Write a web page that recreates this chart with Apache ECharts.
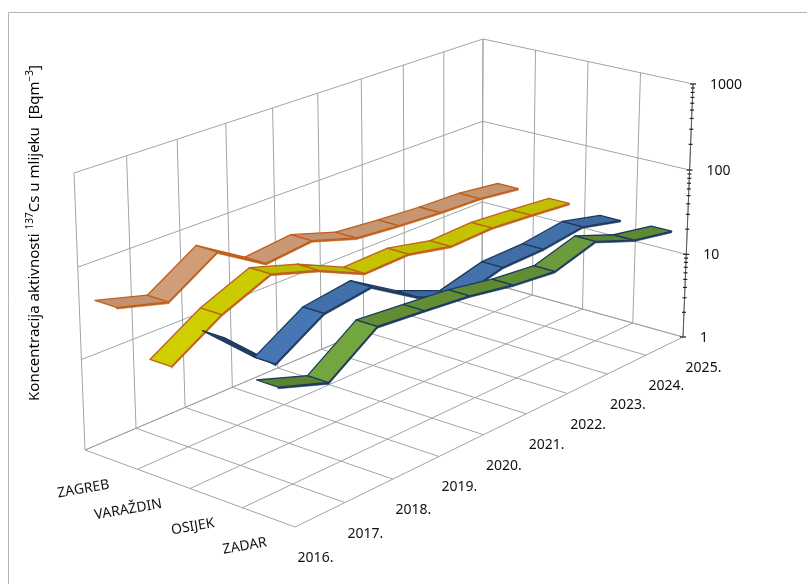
<!DOCTYPE html>
<html>
<head>
<meta charset="utf-8">
<title>Koncentracija aktivnosti 137Cs u mlijeku</title>
<style>
  html, body { margin: 0; height: 100%; background: #fff; }
  #chart { width: 807px; height: 584px; }
</style>
</head>
<body>
<div id="chart"></div>
<script src="https://cdn.jsdelivr.net/npm/echarts/dist/echarts.min.js"></script>
<script>
// ---- data (Bq/m3) ----
var YEARS = ['2016.', '2017.', '2018.', '2019.', '2020.', '2021.', '2022.', '2023.', '2024.', '2025.'];
var CITIES = ['ZAGREB', 'VARAŽDIN', 'OSIJEK', 'ZADAR'];
var ZAGREB   = [50, 35, 77, 36, 41, 28, 25, 23, 22, 19];
var VARAZDIN = [18, 39, 66, 45, 26, 27, 21, 22, 20, 18];
var OSIJEK   = [56, 17.5, 37, 44, 21, 13, 17.5, 18, 21, 16];
var ZADAR    = [26, 17, 40, 36, 32, 26, 23, 32, 21, 17];
var TICKS = [1, 10, 100, 1000];

var FACE = ['#d6a27c', '#d8d800', '#4a7ebf', '#7db544'];
var EDGE = ['#c0601c', '#c0601c', '#1f3a60', '#1f3a60'];
var FLAT = [0.93, 0.9, 0.87, 0.8];    // brightness of a level face vs a rising one
var FONT = '14px "Noto Sans", "Open Sans", sans-serif';

// ---- 3D box: screen corners of floor (v=0) and top (v=1) ----
// b = back (w=0), f = front (w=1), l = first year (u=0), r = last year (u=1)
var BOX = {
  floor: { bl: [85, 450], br: [482, 281], fl: [295, 527], fr: [683, 337] },
  top:   { bl: [74, 173], br: [483, 39],  fl: [293, 237], fr: [693, 84] }
};
var FORE_U = 0.18, FORE_V = -0.03;   // perspective foreshortening along axes
var RIBBON = 0.1;                    // ribbon depth (fraction of box depth)
var THICK = 0.006;                   // ribbon thickness (fraction of box height)

function fore(t, r) { return t * (1 + r) / (1 + r * t); }

function project(u, w, v) {
  u = fore(u, FORE_U);
  v = fore(v, FORE_V);
  var out = [];
  for (var k = 0; k < 2; k++) {
    var f = BOX.floor, t = BOX.top;
    var b = f.bl[k] * (1 - u) * (1 - w) + f.br[k] * u * (1 - w) + f.fl[k] * (1 - u) * w + f.fr[k] * u * w;
    var c = t.bl[k] * (1 - u) * (1 - w) + t.br[k] * u * (1 - w) + t.fl[k] * (1 - u) * w + t.fr[k] * u * w;
    out.push(b + (c - b) * v);
  }
  return out;
}

// category index + value -> normalised [u, v] through the (hidden) cartesian axes
function norm(params, api, idx, val) {
  var cs = params.coordSys;
  var p = api.coord([idx, val]);
  return [(p[0] - cs.x) / cs.width, (cs.y + cs.height - p[1]) / cs.height];
}

function shade(hex, k) {
  var n = parseInt(hex.slice(1), 16);
  var r = Math.min(255, Math.round((n >> 16 & 255) * k));
  var g = Math.min(255, Math.round((n >> 8 & 255) * k));
  var b = Math.min(255, Math.round((n & 255) * k));
  return 'rgb(' + r + ',' + g + ',' + b + ')';
}

function ribbonSeries(s, values) {
  var data = [];
  for (var i = 0; i < values.length - 1; i++) data.push([i, values[i], values[i + 1]]);
  return {
    type: 'custom',
    name: CITIES[s],
    silent: true,
    z: 3 + s,
    data: data,
    renderItem: function (params, api) {
      var i = api.value(0);
      var a = norm(params, api, i, api.value(1));
      var b = norm(params, api, i + 1, api.value(2));
      var wc = (s + 0.5) / CITIES.length;
      var w0 = wc - RIBBON / 2, w1 = wc + RIBBON / 2;
      var p1 = project(a[0], w0, a[1]), p2 = project(b[0], w0, b[1]);
      var p3 = project(b[0], w1, b[1]), p4 = project(a[0], w1, a[1]);
      var q3 = project(b[0], w1, b[1] - THICK), q4 = project(a[0], w1, a[1] - THICK);

      var e1 = [p2[0] - p1[0], p2[1] - p1[1]], e2 = [p4[0] - p1[0], p4[1] - p1[1]];
      var facing = e1[0] * e2[1] - e1[1] * e2[0];
      var rise = Math.sin(Math.atan2((b[1] - a[1]) * 265, (b[0] - a[0]) * 395));
      var k = 1 - (1 - FLAT[s]) * (1 - rise);
      var fill = facing < 0 ? shade(EDGE[s], 1.05) : shade(FACE[s], Math.max(k, 0.65));

      return {
        type: 'group',
        children: [{
          type: 'polygon',
          z2: i * 2,
          shape: { points: [p4, p3, q3, q4] },
          style: { fill: EDGE[s], stroke: EDGE[s], lineWidth: 0.6 }
        }, {
          type: 'polygon',
          z2: i * 2 + 1,
          shape: { points: [p1, p2, p3, p4] },
          style: { fill: fill, stroke: EDGE[s], lineWidth: 1.3, lineJoin: 'round' }
        }]
      };
    }
  };
}

// ---- frame lines: [year0, value0, depth0, year1, value1, depth1] ----
var last = YEARS.length - 1;
var frameLines = [];
for (var j = 0; j <= CITIES.length; j++) {
  var d = j / CITIES.length;
  frameLines.push([0, 1, d, last, 1, d]);          // floor, along years
  frameLines.push([last, 1, d, last, 1000, d]);    // side wall verticals
}
for (var i = 0; i < YEARS.length; i++) {
  frameLines.push([i, 1, 0, i, 1, 1]);             // floor, along depth
  frameLines.push([i, 1, 0, i, 1000, 0]);          // back wall verticals
}
TICKS.forEach(function (t) {
  frameLines.push([0, t, 0, last, t, 0]);          // back wall horizontals
  frameLines.push([last, t, 0, last, t, 1]);       // side wall horizontals
});

// ---- value axis ticks (log minor ticks 2..9) ----
var axisTicks = [];
TICKS.forEach(function (t, k) {
  axisTicks.push([last, t, 1]);
  if (k < TICKS.length - 1) for (var m = 2; m <= 9; m++) axisTicks.push([last, t * m, 0]);
});

// ---- labels: [year, value, depth, kind, index] ----
var labels = [];
YEARS.forEach(function (y, k) { labels.push([k, 1, 1, 0, k]); });
CITIES.forEach(function (c, k) { labels.push([0, 1, (k + 0.5) / CITIES.length, 1, k]); });
TICKS.forEach(function (t, k) { labels.push([last, t, 1, 2, k]); });

var chart = echarts.init(document.getElementById('chart'));

chart.setOption({
  animation: false,
  grid: { left: 0, top: 0, width: 300, height: 300, show: false },
  xAxis: { type: 'category', data: YEARS, boundaryGap: false, show: false },
  yAxis: { type: 'log', logBase: 10, min: 1, max: 1000, show: false },
  graphic: [{
    type: 'rect',
    z: 0,
    shape: { x: 8.5, y: 12.5, width: 900, height: 700 },
    style: { fill: 'none', stroke: '#b4b4b4', lineWidth: 1 }
  }, {
    type: 'text',
    z: 10,
    x: 35,
    y: 233,
    rotation: Math.PI / 2,
    style: {
      text: 'Koncentracija aktivnosti {sup|137}Cs u mlijeku  [Bqm{sup|\u22123}]',
      font: '15px "Noto Sans", "Open Sans", sans-serif',
      fill: '#000',
      align: 'center',
      verticalAlign: 'middle',
      rich: {
        sup: { fontSize: 10, fontFamily: '"Noto Sans", sans-serif', verticalAlign: 'top', lineHeight: 19 }
      }
    }
  }],
  series: [{
    type: 'custom',
    name: 'frame',
    silent: true,
    z: 1,
    data: frameLines,
    renderItem: function (params, api) {
      var a = norm(params, api, api.value(0), api.value(1));
      var b = norm(params, api, api.value(3), api.value(4));
      var p = project(a[0], api.value(2), a[1]);
      var q = project(b[0], api.value(5), b[1]);
      return {
        type: 'line',
        shape: { x1: p[0], y1: p[1], x2: q[0], y2: q[1] },
        style: { stroke: '#a3a3a3', lineWidth: 1 }
      };
    }
  },
    ribbonSeries(0, ZAGREB),
    ribbonSeries(1, VARAZDIN),
    ribbonSeries(2, OSIJEK),
    ribbonSeries(3, ZADAR),
  {
    type: 'custom',
    name: 'axis',
    silent: true,
    z: 8,
    data: axisTicks,
    renderItem: function (params, api) {
      var a = norm(params, api, api.value(0), api.value(1));
      var p = project(a[0], 1, a[1]);
      var major = api.value(2) === 1;
      var children = [{
        type: 'line',
        shape: { x1: p[0] - (major ? 3 : 2), y1: p[1], x2: p[0] + (major ? 3 : 2), y2: p[1] },
        style: { stroke: '#222', lineWidth: 1.2 }
      }];
      if (params.dataIndex === 0) {
        var top = norm(params, api, api.value(0), TICKS[TICKS.length - 1]);
        var q = project(top[0], 1, top[1]);
        children.push({
          type: 'line',
          shape: { x1: p[0], y1: p[1], x2: q[0], y2: q[1] },
          style: { stroke: '#595959', lineWidth: 1 }
        });
      }
      return { type: 'group', children: children };
    }
  }, {
    type: 'custom',
    name: 'labels',
    silent: true,
    z: 9,
    data: labels,
    renderItem: function (params, api) {
      var a = norm(params, api, api.value(0), api.value(1));
      var p = project(a[0], api.value(2), a[1]);
      var kind = api.value(3), k = api.value(4);
      if (kind === 0) {
        return {
          type: 'text', x: p[0] + 20.5, y: p[1] + 31,
          style: { text: YEARS[k], font: FONT, fill: '#111', align: 'center', verticalAlign: 'middle' }
        };
      }
      if (kind === 1) {
        return {
          type: 'text', x: p[0] - 2, y: p[1] + 25, rotation: 0.17,
          style: { text: CITIES[k], font: FONT, fill: '#111', align: 'right', verticalAlign: 'middle' }
        };
      }
      return {
        type: 'text', x: p[0] + 17, y: p[1] + 1,
        style: { text: String(TICKS[k]), font: FONT, fill: '#111', align: 'left', verticalAlign: 'middle' }
      };
    }
  }]
});
</script>
</body>
</html>
